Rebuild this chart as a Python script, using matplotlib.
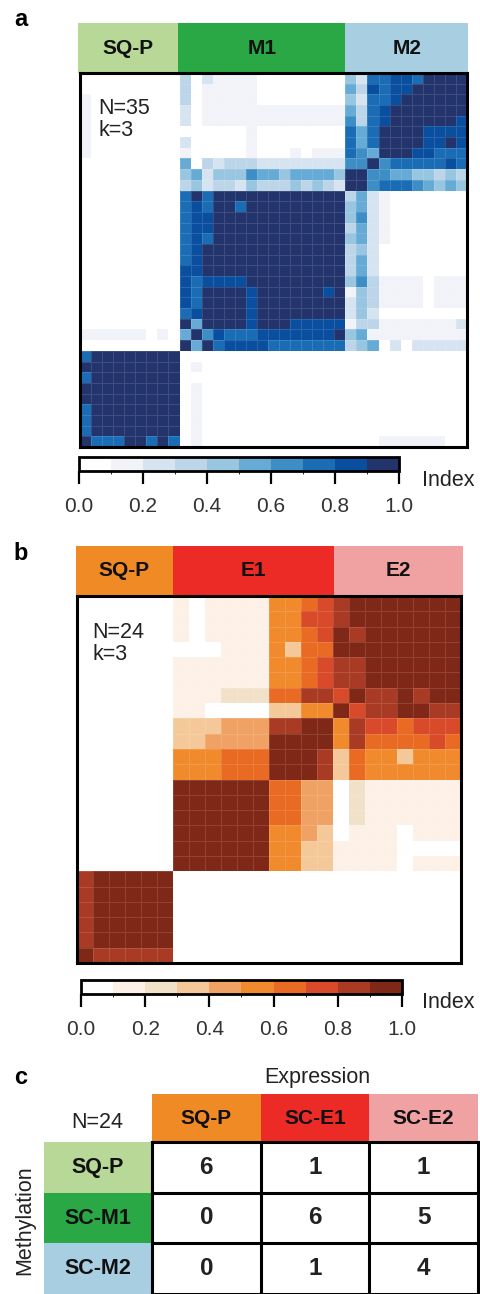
import numpy as np
import matplotlib
matplotlib.use("Agg")
from matplotlib import pyplot as plt
from matplotlib.colors import ListedColormap, BoundaryNorm
from matplotlib.cm import ScalarMappable

plt.rcParams['font.family'] = ['Liberation Sans', 'DejaVu Sans']

W, H = 481, 1294

# panel a: methylation consensus, one digit = index bin (0 -> 0.0-0.1 ... 9 -> 0.9-1.0)
# rows listed top to bottom, columns left to right
meth_groups = ['SQ-P', 'M1', 'M2']
meth_sizes = [9, 15, 11]
meth_colors = ['#b7d896', '#29a845', '#a8cee1']
meth_rows = [
    "000000000" + "302111100000000" + "42778879999",
    "000000000" + "301111100000000" + "53878899999",
    "100000000" + "301111100000000" + "42778999999",
    "100000000" + "201111111111111" + "53789999999",
    "100000000" + "201111111111111" + "63789999998",
    "100000000" + "000000100000000" + "75799998888",
    "100000000" + "200000100000000" + "75799998898",
    "100000000" + "100000100010111" + "76599988777",
    "000000000" + "503233322222222" + "66967777787",
    "000000000" + "452444655455554" + "99665544343",
    "000000000" + "342332433343432" + "99677765454",
    "000000000" + "797999999999999" + "35210000000",
    "000000000" + "787997999999999" + "45210000000",
    "000000000" + "788999999999999" + "46210000000",
    "000000000" + "788999999999999" + "35210000000",
    "000000000" + "787999999999999" + "45210000000",
    "000000000" + "789999999999999" + "34200000000",
    "000000000" + "789999999999999" + "35200000000",
    "000000000" + "889999999999999" + "35200000000",
    "000000000" + "878888999999999" + "46311110111",
    "000000000" + "879999899999989" + "14311110111",
    "000000000" + "879999899999999" + "24311110111",
    "000000000" + "789999899999999" + "24200000000",
    "000000000" + "959999899988888" + "13311111112",
    "111111010" + "596877788888889" + "45111111111",
    "000000000" + "959788887777777" + "34502022222",
    "799999999" + "000000000000000" + "00000000000",
    "999999999" + "010000000000000" + "00000000000",
    "799999999" + "000000000000000" + "00000000000",
    "999999999" + "010000000000000" + "00000000000",
    "999999999" + "010000000000000" + "00000000000",
    "799999999" + "010000000000000" + "00000000000",
    "799999999" + "010000000000000" + "00000000000",
    "799999999" + "010000000000000" + "00000000000",
    "977799797" + "010000000000000" + "00011111100",
]

# panel b: expression consensus
expr_groups = ['SQ-P', 'E1', 'E2']
expr_sizes = [6, 10, 8]
expr_colors = ['#f08a25', '#ed2b26', '#f0a2a2']
expr_rows = [
    "000000" + "1011115567" + "89999999",
    "000000" + "1011115577" + "89999999",
    "000000" + "1011115567" + "98999999",
    "000000" + "0001115366" + "99999999",
    "000000" + "1111115567" + "88999999",
    "000000" + "1111115567" + "88999999",
    "000000" + "1112226688" + "79889899",
    "000000" + "1100003355" + "97889988",
    "000000" + "3334448899" + "58776777",
    "000000" + "3344449999" + "58666676",
    "000000" + "5556669998" + "36553555",
    "000000" + "5556669998" + "36555555",
    "000000" + "9999996644" + "02111111",
    "000000" + "9999996644" + "02111111",
    "000000" + "9999996644" + "02111111",
    "000000" + "9999995543" + "01110111",
    "000000" + "9999995533" + "11110000",
    "000000" + "9999995533" + "11110111",
    "899999" + "000000000000000000",
    "899999" + "000000000000000000",
    "899999" + "000000000000000000",
    "899999" + "000000000000000000",
    "899999" + "000000000000000000",
    "988888" + "000000000000000000",
]

blues = ['#ffffff', '#f1f3f9', '#d6e3f0', '#bcd5e8', '#98c5e0',
         '#66aad6', '#3e8ec6', '#1a6cb5', '#0a4f9f', '#23336b']
oranges = ['#ffffff', '#fdf1e7', '#f2e1c9', '#f4c898', '#efa263',
           '#f08a2d', '#e96a22', '#d84a29', '#a93a24', '#7f2818']

# panel c: cross table
tab_cols = ['SQ-P', 'SC-E1', 'SC-E2']
tab_rows = ['SQ-P', 'SC-M1', 'SC-M2']
tab_counts = [[6, 1, 1],
              [0, 6, 5],
              [0, 1, 4]]

fig = plt.figure(figsize=(W / 100, H / 100), dpi=100)


def px_axes(x0, y0, x1, y1):
    return fig.add_axes([x0 / W, 1 - y1 / H, (x1 - x0) / W, (y1 - y0) / H])


def ftext(x, y, s, **kw):
    fig.text(x / W, 1 - y / H, s, **kw)


bounds = np.linspace(0, 1, 11)


def heatmap_panel(rows, sizes, groups, gcolors, colors, hbox, mbox, cbox, idx_pos, nk_pos, n_label):
    cmap = ListedColormap(colors)
    norm = BoundaryNorm(bounds, cmap.N)
    vals = (np.array([[int(c) for c in r] for r in rows]) + 0.5) / 10.0
    n = vals.shape[0]

    # group header bar
    axh = px_axes(*hbox)
    lefts = np.concatenate([[0], np.cumsum(sizes)[:-1]])
    axh.barh(0.5, sizes, left=lefts, height=1, color=gcolors)
    for lab, l, s in zip(groups, lefts, sizes):
        axh.text(l + s / 2, 0.5, lab, ha='center', va='center', fontsize=15,
                 fontweight='bold', color='#111111')
    axh.set_xlim(0, n)
    axh.set_ylim(0, 1)
    axh.axis('off')

    # consensus matrix
    ax = px_axes(*mbox)
    ax.pcolormesh(vals, cmap=cmap, norm=norm, edgecolors=(1, 1, 1, 0.13), linewidth=0.5)
    ax.set_xlim(0, n)
    ax.set_ylim(n, 0)
    ax.set_xticks([])
    ax.set_yticks([])
    for sp in ax.spines.values():
        sp.set_linewidth(2.2)
    ftext(nk_pos[0], nk_pos[1], n_label, fontsize=15.5, va='center', ha='left', color='#222222')
    ftext(nk_pos[0] + 1, nk_pos[1] + 23, 'k=3', fontsize=15.5, va='center', ha='left', color='#222222')

    # colour key
    cax = px_axes(*cbox)
    cb = fig.colorbar(ScalarMappable(norm=norm, cmap=cmap), cax=cax, orientation='horizontal',
                      ticks=[0, 0.2, 0.4, 0.6, 0.8, 1.0])
    cb.outline.set_linewidth(2)
    cb.ax.xaxis.set_ticks_position('bottom')
    cb.ax.tick_params(length=9, width=1.6, labelsize=15, pad=10, labelcolor='#333333')
    cb.ax.set_xticklabels(['0.0', '0.2', '0.4', '0.6', '0.8', '1.0'])
    ftext(idx_pos[0], idx_pos[1], 'Index', fontsize=15.5, va='center', ha='left', color='#222222')


# panel a
ftext(21, 19, 'a', fontsize=17, fontweight='bold', ha='center', va='center')
heatmap_panel(meth_rows, meth_sizes, meth_groups, meth_colors, blues,
              (78, 23, 468, 73), (80, 73, 467, 447), (79, 457, 399, 471),
              (422, 481), (98, 108), 'N=35')

# panel b
ftext(21, 553, 'b', fontsize=17, fontweight='bold', ha='center', va='center')
heatmap_panel(expr_rows, expr_sizes, expr_groups, expr_colors, oranges,
              (76, 546, 463, 596), (77, 596, 461, 963), (81, 980, 402, 994),
              (422, 1003), (92, 632), 'N=24')

# panel c
ftext(21, 1077, 'c', fontsize=17, fontweight='bold', ha='center', va='center')
ftext(317, 1077, 'Expression', fontsize=15.5, ha='center', va='center', color='#222222')
ftext(97, 1122, 'N=24', fontsize=15.5, ha='center', va='center', color='#222222')
ftext(25, 1220, 'Methylation', fontsize=15.5, ha='center', va='center', rotation=90, color='#222222')

axc = px_axes(152, 1094, 478, 1142)
axc.bar(np.arange(3) + 0.5, 1, width=1, color=expr_colors)
for j, lab in enumerate(tab_cols):
    axc.text(j + 0.5, 0.5, lab, ha='center', va='center', fontsize=15, fontweight='bold', color='#111111')
axc.set_xlim(0, 3)
axc.set_ylim(0, 1)
axc.axis('off')

axr = px_axes(44, 1142, 152, 1294)
axr.barh(np.arange(3) + 0.5, 1, height=1, color=meth_colors)
for i, lab in enumerate(tab_rows):
    axr.text(0.5, i + 0.5, lab, ha='center', va='center', fontsize=15.5, fontweight='bold', color='#111111')
axr.set_xlim(0, 1)
axr.set_ylim(3, 0)
axr.axis('off')

axt = px_axes(152, 1142, 478, 1294)
axt.set_xlim(0, 3)
axt.set_ylim(3, 0)
for i in range(3):
    for j in range(3):
        axt.text(j + 0.5, i + 0.5, str(tab_counts[i][j]), ha='center', va='center',
                 fontsize=17.5, fontweight='bold', color='#222222')
for k in range(1, 3):
    axt.axhline(k, color='black', lw=2.2)
    axt.axvline(k, color='black', lw=2.2)
axt.set_xticks([])
axt.set_yticks([])
for sp in axt.spines.values():
    sp.set_linewidth(2.2)

fig.savefig('out.png', dpi=100)
